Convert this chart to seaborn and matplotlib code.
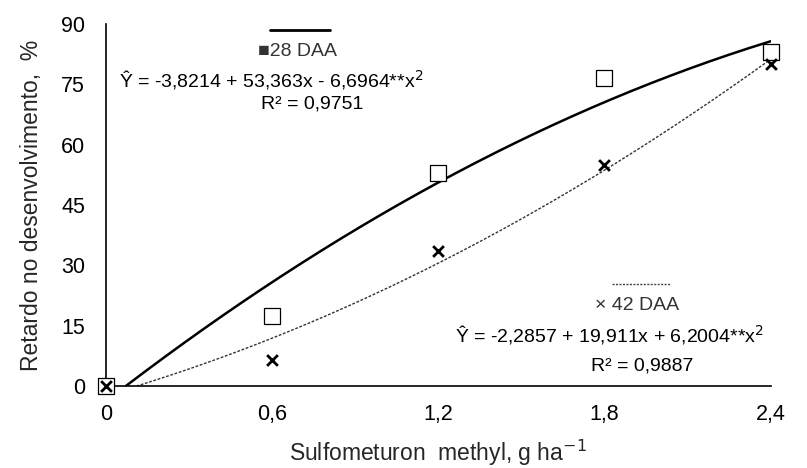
import numpy as np
import pandas as pd
import matplotlib
matplotlib.use("Agg")
import matplotlib.pyplot as plt
import seaborn as sns
from matplotlib.lines import Line2D

doses = [0, 0.6, 1.2, 1.8, 2.4]
daa28 = [0, 17.5, 53, 76.5, 83]
daa42 = [0, 6.5, 33.5, 55, 80]
coef28 = [-3.8214, 53.363, -6.6964]
coef42 = [-2.2857, 19.911, 6.2004]
xticks = [0, 0.6, 1.2, 1.8, 2.4]
xticklabels = ["0", "0,6", "1,2", "1,8", "2,4"]
yticks = [0, 15, 30, 45, 60, 75, 90]

sns.set_theme(style="white")
plt.rcParams['font.family'] = ['Liberation Sans', 'DejaVu Sans']

fig = plt.figure(figsize=(8.07, 4.68), dpi=100)
ax = fig.add_axes([0.131, 0.175, 0.824, 0.774])

def curve(c, xmax=2.4):
    r = np.roots([c[2], c[1], c[0]])
    r = r[(r > 0) & (r < xmax)].real.min()
    xs = np.linspace(r, xmax, 200)
    return pd.DataFrame({"x": xs, "y": c[0] + c[1] * xs + c[2] * xs ** 2})

c28 = curve(coef28)
c42 = curve(coef42)
sns.lineplot(data=c28, x="x", y="y", ax=ax, color="black", linewidth=1.8, sort=False)
sns.lineplot(data=c42, x="x", y="y", ax=ax, color="#333333", linewidth=1.0,
             linestyle=(0, (2, 1.2)), sort=False)

df = pd.DataFrame({"dose": doses, "d28": daa28, "d42": daa42})
sns.scatterplot(data=df, x="dose", y="d28", ax=ax, marker="s", s=125,
                facecolor="white", edgecolor="black", linewidth=0.9, clip_on=False, zorder=5)
sns.scatterplot(data=df, x="dose", y="d42", ax=ax, marker="x", s=60,
                color="black", linewidth=2.0, clip_on=False, zorder=6)

ax.set_xlim(0, 2.4)
ax.set_ylim(0, 90)
ax.set_xticks(xticks)
ax.set_xticklabels(xticklabels)
ax.set_yticks(yticks)
ax.tick_params(axis="both", length=0, labelsize=15.5, colors="black")
ax.tick_params(axis="x", pad=13)
ax.tick_params(axis="y", pad=15)
for s in ["top", "right"]:
    ax.spines[s].set_visible(False)
for s in ["left", "bottom"]:
    ax.spines[s].set_color("black")
    ax.spines[s].set_linewidth(1.2)
ax.set_xlabel("Sulfometuron  methyl, g ha$^{-1}$", fontsize=16.5, labelpad=9)
ax.set_ylabel("Retardo no desenvolvimento,  %", fontsize=16.5, labelpad=13)

# legend / equation annotations (Excel-style)
fs = 14
fig.add_artist(Line2D([270/807, 330/807], [1-30/468, 1-30/468], color="black", linewidth=2))
fig.text(297/807, 1-51/468, "■28 DAA", ha="center", va="center", fontsize=fs, color="#333333")
fig.text(271/807, 1-80/468, "Ŷ = -3,8214 + 53,363x - 6,6964**x$^{2}$", ha="center", va="center",
         fontsize=fs, color="black")
fig.text(312/807, 1-104/468, "R² = 0,9751", ha="center", va="center", fontsize=fs, color="black")

fig.add_artist(Line2D([612/807, 670/807], [1-284/468, 1-284/468], color="#444444",
                      linewidth=1.0, linestyle=(0, (1.5, 1))))
fig.text(637/807, 1-306/468, "× 42 DAA", ha="center", va="center", fontsize=fs, color="#333333")
fig.text(609/807, 1-335/468, "Ŷ = -2,2857 + 19,911x + 6,2004**x$^{2}$", ha="center", va="center",
         fontsize=fs, color="black")
fig.text(642/807, 1-366/468, "R² = 0,9887", ha="center", va="center", fontsize=fs, color="black")

fig.savefig("out.png", dpi=100)
